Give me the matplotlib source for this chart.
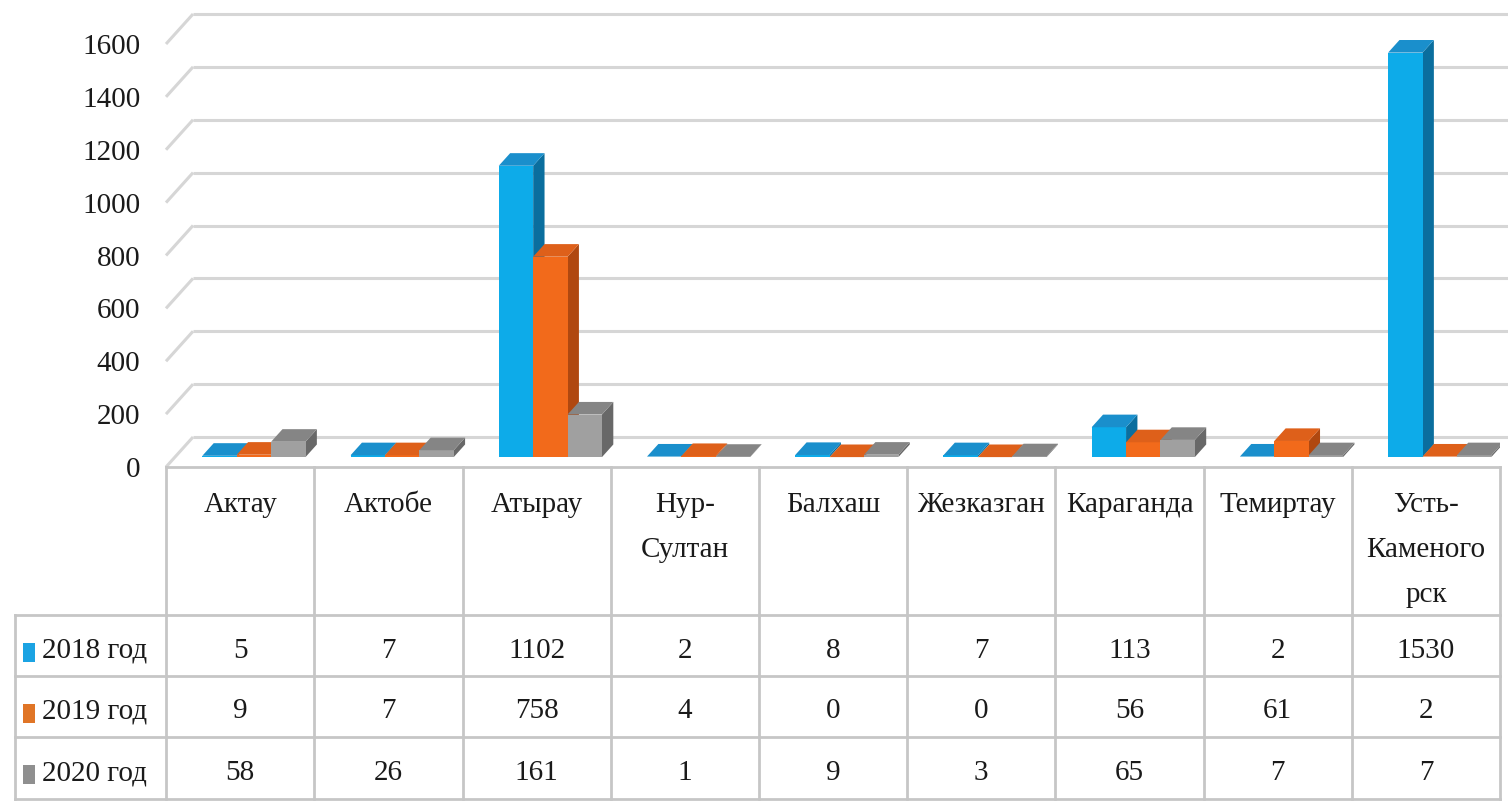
import matplotlib
matplotlib.use("Agg")
import matplotlib.pyplot as plt
from matplotlib.patches import Polygon, Rectangle

# ---------------- data ----------------
categories = ["Актау", "Актобе", "Атырау", "Нур-\nСултан", "Балхаш",
              "Жезказган", "Караганда", "Темиртау", "Усть-\nКаменого\nрск"]
series_names = ["2018 год", "2019 год", "2020 год"]
v2018 = [5, 7, 1102, 2, 8, 7, 113, 2, 1530]
v2019 = [9, 7, 758, 4, 0, 0, 56, 61, 2]
v2020 = [58, 26, 161, 1, 9, 3, 65, 7, 7]
yticks = [0, 200, 400, 600, 800, 1000, 1200, 1400, 1600]

series = [v2018, v2019, v2020]

# ---------------- style ----------------
front_c = ["#0DABE9", "#F26A1B", "#A0A0A0"]
side_c = ["#0A6E9E", "#B04810", "#686868"]
top_c = ["#1A8FCC", "#DE601A", "#858585"]
legend_c = ["#1BA3E3", "#E07526", "#8F8F8F"]
grid_c = "#D6D6D6"
line_c = "#C6C6C6"
text_c = "#1A1A1A"
FS = 21

plt.rcParams['font.family'] = ['Liberation Serif', 'DejaVu Serif']

W, H = 1508, 802
fig = plt.figure(figsize=(W / 100, H / 100), dpi=100)
fig.patch.set_facecolor("white")


def fx(px):
    return px / W


def fy(py):
    return 1 - py / H


# ---------------- chart axes ----------------
upp = 1600 / (467 - 44)          # value units per pixel
ax = fig.add_axes([fx(166), fy(467), fx(1500) - fx(166), fy(10) - fy(467)])
ax.set_xlim(0, 9)
ax.set_ylim(0, (467 - 10) * upp)
for s in ax.spines.values():
    s.set_visible(False)
ax.set_xticks([])
ax.set_yticks(yticks)
ax.set_yticklabels([str(t) for t in yticks], fontsize=FS, color=text_c)
ax.tick_params(axis='y', length=0, pad=18.5)
ax.patch.set_alpha(0)

DX = 27 / 148          # depth offset of the back wall (category units)
DY = 30 * upp          # depth offset of the back wall (value units)

for v in yticks:
    ax.plot([0, DX], [v, v + DY], color=grid_c, lw=2.2, clip_on=False,
            zorder=1, solid_capstyle='butt')
    ax.plot([DX, 9.08], [v + DY, v + DY], color=grid_c, lw=2.2,
            clip_on=False, zorder=1, solid_capstyle='butt')

BF = 0.33      # bar front face position (fraction of floor depth)
BD = 0.42      # bar depth (fraction of floor depth)
BW = 0.232     # bar width (category units)
GS = 0.185     # group start inside a category
bdx, bdy = BD * DX, BD * DY

for i in range(len(categories)):
    for j, vals in enumerate(series):
        v = vals[i]
        x0 = i + GS + j * BW + BF * DX
        yb = BF * DY
        yt = yb + v
        z = 5 + i * 4 + j
        frontp = Polygon([(x0, yb), (x0 + BW, yb), (x0 + BW, yt), (x0, yt)],
                         closed=True, fc=front_c[j], ec='none', zorder=z)
        sidep = Polygon([(x0 + BW, yb), (x0 + BW + bdx, yb + bdy),
                         (x0 + BW + bdx, yt + bdy), (x0 + BW, yt)],
                        closed=True, fc=side_c[j], ec='none', zorder=z)
        topp = Polygon([(x0, yt), (x0 + BW, yt), (x0 + BW + bdx, yt + bdy),
                        (x0 + bdx, yt + bdy)],
                       closed=True, fc=top_c[j], ec='none', zorder=z)
        for p in (sidep, frontp, topp):
            ax.add_patch(p)

# ---------------- data table ----------------
tax = fig.add_axes([fx(15), fy(799), fx(1500) - fx(15), fy(467) - fy(799)])
left_x = -(166 - 15) / 148
tax.set_xlim(left_x, 9)
tax.set_ylim(332, 0)
tax.axis('off')

rows = [0, 148, 209, 270, 332]
tax.plot([0, 9], [rows[0], rows[0]], color=line_c, lw=2, clip_on=False)
for r in rows[1:]:
    tax.plot([left_x, 9], [r, r], color=line_c, lw=2, clip_on=False)
for k in range(len(categories) + 1):
    tax.plot([k, k], [0, 332], color=line_c, lw=2, clip_on=False)
tax.plot([left_x, left_x], [rows[1], rows[4]], color=line_c, lw=2, clip_on=False)

for i, cat in enumerate(categories):
    tax.text(i + 0.5, 25, cat, ha='center', va='top', fontsize=FS,
             color=text_c, linespacing=1.95)

for r, (name, vals) in enumerate(zip(series_names, series)):
    yc = (rows[r + 1] + rows[r + 2]) / 2 + 5
    tax.text((42 - 166) / 148, yc, name, ha='left', va='center',
             fontsize=FS, color=text_c)
    tax.add_patch(Rectangle(((23 - 166) / 148, yc - 8), 12 / 148, 19,
                            fc=legend_c[r], ec='none'))
    for i, v in enumerate(vals):
        tax.text(i + 0.5, yc, str(v), ha='center', va='center',
                 fontsize=FS, color=text_c)

fig.savefig("out.png", dpi=100, facecolor="white")
